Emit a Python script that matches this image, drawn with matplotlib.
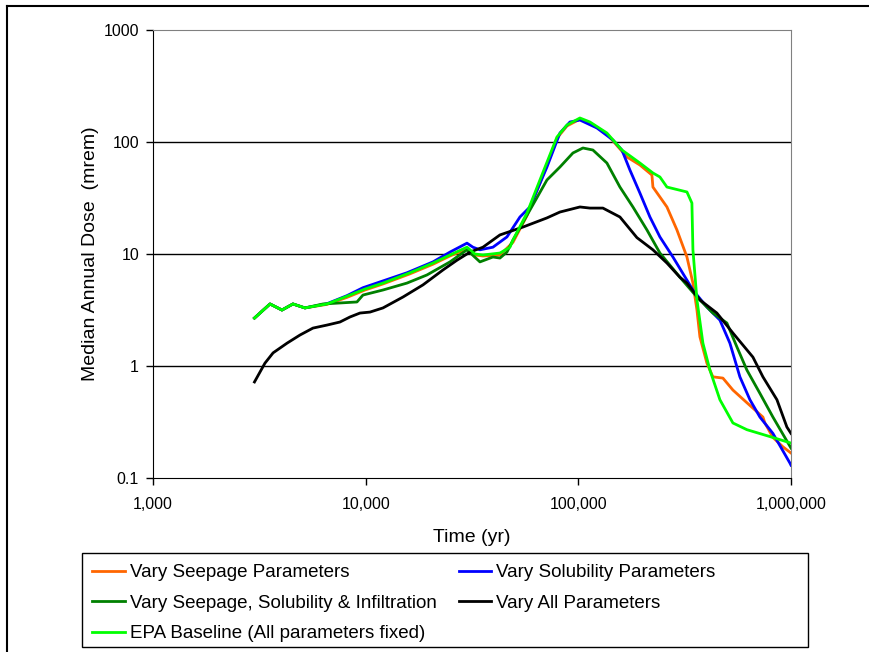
import matplotlib
matplotlib.use("Agg")
import matplotlib.pyplot as plt
from matplotlib.lines import Line2D
from matplotlib.patches import Rectangle
from matplotlib.ticker import FixedLocator, FuncFormatter, NullLocator

plt.rcParams["font.family"] = ["Liberation Sans", "DejaVu Sans"]

# time (yr) and median annual dose (mrem)
epa_t = [3000, 3550, 4040, 4550, 5180, 6580, 8170, 9930, 12060, 16150, 20720, 24910,
         29950, 32650, 35600, 42790, 47690, 49260, 57330, 65990, 79340, 88420, 101740,
         113380, 136250, 160320, 194800, 224250, 241900, 261000, 324100, 342000, 345800,
         361200, 385300, 415600, 463100, 533100, 620300, 822200, 1000000]
epa_d = [2.68, 3.58, 3.16, 3.58, 3.30, 3.58, 4.2, 4.87, 5.5, 6.8, 8.3, 9.8,
         11.5, 10.0, 9.8, 10.2, 11.5, 13.3, 23.2, 45.8, 110.8, 141.8, 163.8,
         150.9, 120.3, 84.8, 64.9, 52.9, 48.7, 39.6, 35.8, 28.5, 10.9,
         3.89, 1.60, 0.92, 0.50, 0.31, 0.27, 0.23, 0.205]

seep_t = [3000, 3550, 4040, 4550, 5180, 6580, 8170, 9930, 12060, 16150, 20720, 24910,
          29950, 32650, 35600, 42790, 49260, 57330, 65990, 79340, 88420, 101740, 113380,
          136250, 169240, 194800, 221840, 224250, 261000, 290800, 324100, 345800, 361200,
          373000, 402300, 429300, 478400, 533100, 620300, 737800, 754000, 822200, 915900,
          1000000]
seep_d = [2.68, 3.58, 3.16, 3.58, 3.30, 3.55, 4.1, 4.77, 5.4, 6.65, 8.1, 9.6,
          11.1, 9.8, 9.6, 9.8, 12.7, 22.0, 43.0, 108.0, 139.0, 160.0, 148.0,
          118.0, 73.5, 62.3, 50.7, 39.6, 26.3, 16.4, 9.4, 5.5, 3.16,
          1.82, 1.06, 0.80, 0.78, 0.61, 0.47, 0.35, 0.31, 0.23, 0.19,
          0.167]

solu_t = [3000, 3550, 4040, 4550, 5180, 6580, 8170, 9710, 12060, 15640, 20720, 24910,
          29950, 31950, 34460, 39660, 46160, 53140, 59220, 71185, 81950, 91330, 101740,
          122300, 145420, 160320, 174820, 194800, 217100, 241900, 278500, 345800, 402300,
          463100, 516000, 575000, 640900, 714200, 822200, 988100, 1000000]
solu_d = [2.68, 3.58, 3.16, 3.58, 3.30, 3.6, 4.25, 5.0, 5.75, 6.8, 8.5, 10.4,
          12.5, 11.5, 10.9, 11.5, 14.2, 21.4, 26.3, 59.8, 120.3, 150.9, 157.1,
          133.4, 104.2, 84.8, 56.2, 35.0, 21.4, 14.2, 9.4, 4.77, 3.36,
          2.57, 1.60, 0.80, 0.50, 0.35, 0.25, 0.136, 0.13]

combo_t = [3000, 3550, 4040, 4550, 5180, 6300, 9100, 9710, 12060, 15640, 19420, 24910,
           29950, 34460, 39660, 42790, 46160, 49260, 59220, 71185, 81950, 94320, 105100,
           117100, 136250, 156890, 180590, 210200, 241900, 300400, 361200, 429300, 499500,
           556700, 620300, 714200, 822200, 1000000]
combo_d = [2.68, 3.58, 3.16, 3.58, 3.30, 3.58, 3.73, 4.3, 4.77, 5.5, 6.5, 8.5,
           10.9, 8.5, 9.4, 9.2, 10.4, 13.3, 24.7, 45.8, 59.8, 79.8, 88.4,
           84.8, 64.9, 39.6, 26.3, 16.4, 10.2, 6.2, 4.13, 2.97, 2.42,
           1.48, 0.92, 0.57, 0.35, 0.185]

all_t = [3000, 3360, 3670, 4270, 4910, 5650, 6580, 7570, 8440, 9400, 10480, 12060,
         14980, 18600, 23090, 26870, 30940, 35600, 42790, 54900, 71185, 81950, 101740,
         113380, 130480, 156890, 188580, 224250, 261000, 300400, 324100, 373000, 448300,
         533100, 662200, 737800, 858600, 956600, 1000000]
all_d = [0.72, 1.06, 1.31, 1.60, 1.89, 2.18, 2.32, 2.47, 2.74, 2.97, 3.03, 3.30,
         4.13, 5.3, 7.2, 8.8, 10.4, 11.5, 14.8, 17.4, 21.0, 23.7, 26.3,
         25.7, 25.7, 21.4, 14.0, 10.9, 8.3, 6.2, 5.5, 3.89, 2.97,
         1.97, 1.20, 0.80, 0.50, 0.285, 0.25]

x_ticks = [1000, 10000, 100000, 1000000]
y_ticks = [0.1, 1, 10, 100, 1000]

fig = plt.figure(figsize=(8.7, 6.52), dpi=100)
ax = fig.add_axes([153 / 870, 1 - 478 / 652, (791 - 153) / 870, (478 - 30) / 652])

lw = 2.0
l_seep, = ax.plot(seep_t, seep_d, color="#FF6600", lw=lw)
l_solu, = ax.plot(solu_t, solu_d, color="#0000FF", lw=lw)
l_combo, = ax.plot(combo_t, combo_d, color="#008000", lw=lw)
l_all, = ax.plot(all_t, all_d, color="black", lw=lw)
l_epa, = ax.plot(epa_t, epa_d, color="#00FF00", lw=lw)

ax.set_xscale("log")
ax.set_yscale("log")
ax.set_xlim(1000, 1000000)
ax.set_ylim(0.1, 1000)
ax.xaxis.set_major_locator(FixedLocator(x_ticks))
ax.yaxis.set_major_locator(FixedLocator(y_ticks))
ax.xaxis.set_minor_locator(NullLocator())
ax.yaxis.set_minor_locator(NullLocator())
ax.xaxis.set_major_formatter(FuncFormatter(lambda v, p: f"{int(round(v)):,}"))
ax.yaxis.set_major_formatter(FuncFormatter(lambda v, p: f"{v:g}"))
ax.tick_params(direction="out", length=5, width=1, labelsize=11.5)
ax.tick_params(axis="x", pad=9)
ax.tick_params(axis="y", pad=5)

for y in [1, 10, 100]:
    ax.axhline(y, color="black", lw=1, zorder=0)

ax.spines["top"].set_color("#808080")
ax.spines["right"].set_color("#808080")
ax.spines["left"].set_color("black")
ax.spines["bottom"].set_color("black")

ax.set_xlabel("Time (yr)", fontsize=14, labelpad=12)
ax.set_ylabel("Median Annual Dose  (mrem)", fontsize=14, labelpad=3)

leg = fig.legend([l_seep, l_combo, l_epa, l_solu, l_all],
                 ["Vary Seepage Parameters", "Vary Seepage, Solubility & Infiltration",
                  "EPA Baseline (All parameters fixed)", "Vary Solubility Parameters",
                  "Vary All Parameters"],
                 ncol=2, loc="upper left",
                 bbox_to_anchor=(92 / 870, 1 - 564 / 652),
                 fontsize=13.5, frameon=False, handlelength=1.75, handletextpad=0.26,
                 labelspacing=0.72, columnspacing=1.17, borderaxespad=0, borderpad=0)

# legend box drawn on its own so it spans the full width of the original
fig.add_artist(Rectangle((82 / 870, 1 - 647 / 652), (808 - 82) / 870, 94 / 652,
                         transform=fig.transFigure, fill=False, edgecolor="black", lw=1))

# outer chart frame (top and left edges visible)
fig.add_artist(Line2D([7 / 870, 1], [1 - 6 / 652, 1 - 6 / 652], color="black", lw=1.5))
fig.add_artist(Line2D([7 / 870, 7 / 870], [0, 1 - 6 / 652], color="black", lw=1.5))

fig.savefig("out.png", dpi=100)
